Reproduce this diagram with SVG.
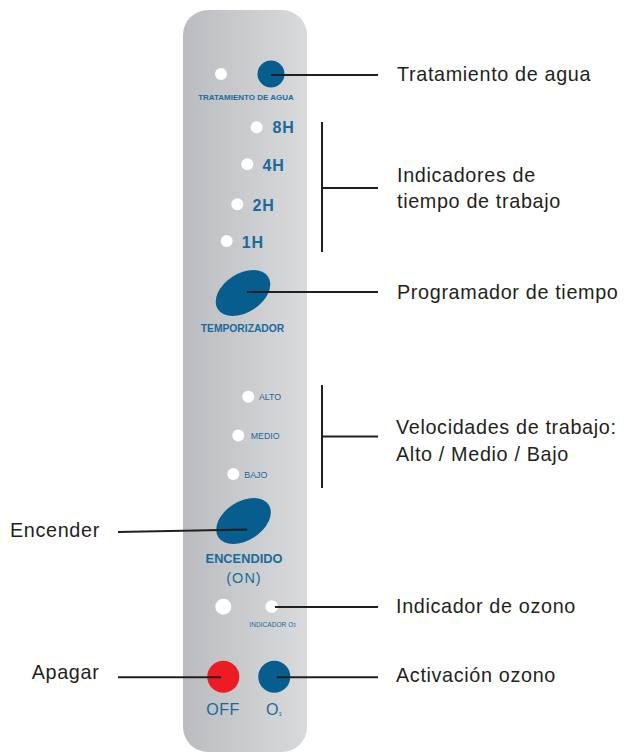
<svg xmlns="http://www.w3.org/2000/svg" width="624" height="753" viewBox="0 0 624 753">
<defs>
<linearGradient id="pg" x1="0" y1="0" x2="1" y2="0">
<stop offset="0" stop-color="#babcbf"/>
<stop offset="1" stop-color="#d9dadc"/>
</linearGradient>
</defs>
<style>
.lbl{font-family:"Liberation Sans",Arial,sans-serif;font-size:19.8px;letter-spacing:0.65px;fill:#231f20}
.pt{font-family:"Liberation Sans",Arial,sans-serif;fill:#1a6a9b}
.b{font-weight:bold}
.ln{stroke:#231f20;stroke-width:2;fill:none}
.dot{fill:#ffffff}
.btn{fill:#075e8e}
</style>
<rect width="624" height="753" fill="#ffffff"/>
<g id="panel">
<rect x="183" y="10" width="124" height="742" rx="25" ry="25" fill="url(#pg)"/>
</g>
<g id="tratamiento">
<circle class="dot" cx="221" cy="74" r="6"/>
<circle class="btn" cx="271" cy="74" r="13.5"/>
<text class="pt b" x="246" y="100" font-size="8" text-anchor="middle">TRATAMIENTO DE AGUA</text>
</g>
<g id="horas">
<circle class="dot" cx="256.7" cy="127.3" r="6"/>
<text class="pt b" x="272.5" y="133.3" font-size="16" letter-spacing="0.8">8H</text>
<circle class="dot" cx="247.3" cy="164.3" r="6"/>
<text class="pt b" x="262.5" y="170.7" font-size="16" letter-spacing="0.8">4H</text>
<circle class="dot" cx="237.3" cy="204.3" r="6"/>
<text class="pt b" x="252.5" y="210.7" font-size="16" letter-spacing="0.8">2H</text>
<circle class="dot" cx="226.7" cy="241" r="6"/>
<text class="pt b" x="241.7" y="247.7" font-size="16" letter-spacing="0.8">1H</text>
</g>
<g id="temporizador">
<ellipse class="btn" cx="243" cy="293" rx="30" ry="19.5" transform="rotate(-33 243 293)"/>
<text class="pt b" x="242.5" y="331.7" font-size="10.3" text-anchor="middle">TEMPORIZADOR</text>
</g>
<g id="velocidades">
<circle class="dot" cx="248.3" cy="396.7" r="6"/>
<text class="pt" x="259" y="400" font-size="8.8">ALTO</text>
<circle class="dot" cx="238.3" cy="435.5" r="6"/>
<text class="pt" x="250.7" y="439.3" font-size="8.8">MEDIO</text>
<circle class="dot" cx="233.3" cy="474" r="6"/>
<text class="pt" x="244.3" y="477.7" font-size="8.8">BAJO</text>
</g>
<g id="encendido">
<ellipse class="btn" cx="243.5" cy="521" rx="30" ry="19.5" transform="rotate(-33 243.5 521)"/>
<text class="pt b" x="244" y="563.3" font-size="12.8" text-anchor="middle">ENCENDIDO</text>
<text class="pt" x="244" y="583.3" font-size="14.5" letter-spacing="1" text-anchor="middle">(ON)</text>
</g>
<g id="ozono-indicador">
<circle class="dot" cx="223.3" cy="606.7" r="8"/>
<circle class="dot" cx="271.7" cy="606.5" r="6.3"/>
<text class="pt" x="249.3" y="626.7" font-size="6.6">INDICADOR O<tspan font-size="4.5" dy="0.5">3</tspan></text>
</g>
<g id="off">
<circle cx="223.3" cy="676.7" r="16" fill="#ed1c24"/>
<text class="pt" x="223" y="715" font-size="16" text-anchor="middle" letter-spacing="0.5">OFF</text>
</g>
<g id="o3">
<circle class="btn" cx="274.3" cy="676.7" r="16"/>
<text class="pt" x="266" y="715" font-size="16">O<tspan font-size="8">₃</tspan></text>
</g>
<g id="connectors">
<line class="ln" x1="271" y1="75" x2="378" y2="75"/>
<polyline class="ln" points="322,122 322,252"/>
<line class="ln" x1="322" y1="188" x2="378" y2="188"/>
<line class="ln" x1="247" y1="292" x2="378" y2="292"/>
<polyline class="ln" points="322,385 322,488"/>
<line class="ln" x1="322" y1="436.5" x2="378" y2="436.5"/>
<line class="ln" x1="118" y1="532" x2="247" y2="529.5"/>
<line class="ln" x1="275" y1="607" x2="378" y2="607"/>
<line class="ln" x1="118" y1="677.3" x2="221" y2="677.3"/>
<line class="ln" x1="277" y1="677.3" x2="378" y2="677.3"/>
</g>
<g id="labels">
<text class="lbl" x="397" y="81">Tratamiento de agua</text>
<text class="lbl" x="397" y="182">Indicadores de</text>
<text class="lbl" x="397" y="207.5">tiempo de trabajo</text>
<text class="lbl" x="397" y="299">Programador de tiempo</text>
<text class="lbl" x="396" y="434">Velocidades de trabajo:</text>
<text class="lbl" x="396" y="461">Alto / Medio / Bajo</text>
<text class="lbl" x="396" y="613">Indicador de ozono</text>
<text class="lbl" x="396" y="682">Activación ozono</text>
<text class="lbl" x="10" y="537">Encender</text>
<text class="lbl" x="31.7" y="679">Apagar</text>
</g>
</svg>
